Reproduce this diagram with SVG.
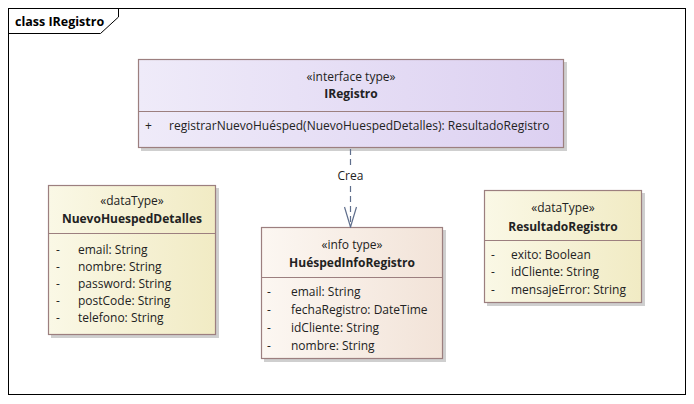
<svg xmlns="http://www.w3.org/2000/svg" width="694" height="404" viewBox="0 0 694 404">
  <defs>
    <linearGradient id="gIface" x1="0" y1="0" x2="1" y2="0">
      <stop offset="0" stop-color="#EFEBF9"/>
      <stop offset="1" stop-color="#DCD0F1"/>
    </linearGradient>
    <linearGradient id="gData" x1="0" y1="0" x2="1" y2="0">
      <stop offset="0" stop-color="#FAF8E6"/>
      <stop offset="1" stop-color="#F1EBC4"/>
    </linearGradient>
    <linearGradient id="gInfo" x1="0" y1="0" x2="1" y2="0">
      <stop offset="0" stop-color="#FCF7F2"/>
      <stop offset="1" stop-color="#F2E3D8"/>
    </linearGradient>
    <!-- open arrowhead, drawn pointing along +x -->
    <marker id="open" viewBox="0 0 22 14" refX="21" refY="7" markerWidth="22" markerHeight="14" markerUnits="userSpaceOnUse" orient="auto">
      <path d="M1,1 L21,7 L1,13" fill="none" stroke="#5F6E8C" stroke-width="1.2"/>
    </marker>
  </defs>
  <style>
    text { font-family: "Open Sans", "Noto Sans", "Liberation Sans", sans-serif; font-size: 12px; fill: #222222; }
    .title { font-weight: bold; font-size: 12.5px; fill: #000; }
    .name { font-weight: bold; }
    .c { text-anchor: middle; }
    .shadow { fill: #CFCFCF; }
    .box { stroke: #9C7F7F; stroke-width: 1.2; }
    .div { stroke: #9C7F7F; stroke-width: 1; }
    .dep { stroke: #5F6E8C; stroke-width: 1.2; stroke-dasharray: 6 4; fill: none; }
  </style>
  <rect width="694" height="404" fill="#FFFFFF"/>

  <!-- diagram frame -->
  <g id="frame">
    <rect x="8.5" y="8.5" width="677" height="386" fill="none" stroke="#000" stroke-width="1"/>
    <path d="M8.5,33.5 H100.5 L118.5,17 V8.5" fill="none" stroke="#000" stroke-width="1"/>
    <text class="title" x="15" y="26">class IRegistro</text>
  </g>

  <!-- interface IRegistro -->
  <g id="IRegistro">
    <rect class="shadow" x="141" y="62" width="426" height="89"/>
    <rect class="box" x="138.5" y="59.5" width="425" height="88" fill="url(#gIface)"/>
    <line class="div" x1="138.5" y1="111.5" x2="563.5" y2="111.5"/>
    <text class="c" x="351" y="81">«interface type»</text>
    <text class="c name" x="351" y="98">IRegistro</text>
    <text x="145" y="130">+</text>
    <text x="169" y="130">registrarNuevoHuésped(NuevoHuespedDetalles): ResultadoRegistro</text>
  </g>

  <!-- dataType NuevoHuespedDetalles -->
  <g id="NuevoHuespedDetalles">
    <rect class="shadow" x="51" y="188" width="168" height="150"/>
    <rect class="box" x="48.5" y="185.5" width="167" height="149" fill="url(#gData)"/>
    <line class="div" x1="48.5" y1="233.5" x2="215.5" y2="233.5"/>
    <text class="c" x="132" y="205">«dataType»</text>
    <text class="c name" x="132" y="223">NuevoHuespedDetalles</text>
    <text x="56" y="254">-</text><text x="78" y="254">email: String</text>
    <text x="56" y="271">-</text><text x="78" y="271">nombre: String</text>
    <text x="56" y="288">-</text><text x="78" y="288">password: String</text>
    <text x="56" y="305">-</text><text x="78" y="305">postCode: String</text>
    <text x="56" y="322">-</text><text x="78" y="322">telefono: String</text>
  </g>

  <!-- info type HuéspedInfoRegistro -->
  <g id="HuespedInfoRegistro">
    <rect class="shadow" x="264" y="230" width="182" height="132"/>
    <rect class="box" x="261.5" y="227.5" width="181" height="131" fill="url(#gInfo)"/>
    <line class="div" x1="261.5" y1="277.5" x2="442.5" y2="277.5"/>
    <text class="c" x="352" y="249">«info type»</text>
    <text class="c name" x="352" y="267">HuéspedInfoRegistro</text>
    <text x="267" y="296">-</text><text x="291" y="296">email: String</text>
    <text x="267" y="314">-</text><text x="291" y="314">fechaRegistro: DateTime</text>
    <text x="267" y="332">-</text><text x="291" y="332">idCliente: String</text>
    <text x="267" y="350">-</text><text x="291" y="350">nombre: String</text>
  </g>

  <!-- dataType ResultadoRegistro -->
  <g id="ResultadoRegistro">
    <rect class="shadow" x="487" y="193" width="158" height="113"/>
    <rect class="box" x="484.5" y="190.5" width="157" height="112" fill="url(#gData)"/>
    <line class="div" x1="484.5" y1="240.5" x2="641.5" y2="240.5"/>
    <text class="c" x="563" y="212">«dataType»</text>
    <text class="c name" x="563" y="231">ResultadoRegistro</text>
    <text x="491" y="259">-</text><text x="511" y="259">exito: Boolean</text>
    <text x="491" y="276">-</text><text x="511" y="276">idCliente: String</text>
    <text x="491" y="294">-</text><text x="511" y="294">mensajeError: String</text>
  </g>

  <!-- connectors -->
  <g id="connectors">
    <line class="dep" x1="350.5" y1="149" x2="350.5" y2="166"/>
    <line class="dep" x1="350.5" y1="186" x2="350.5" y2="227" marker-end="url(#open)"/>
    <text class="c" x="350.5" y="180">Crea</text>
  </g>
</svg>
